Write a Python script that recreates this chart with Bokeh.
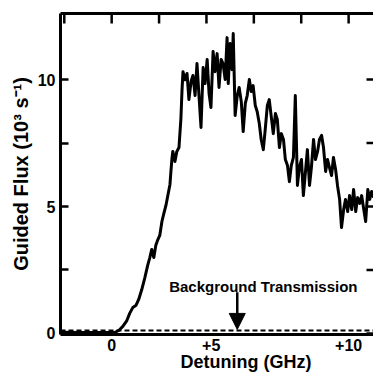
import math
from bokeh.plotting import figure
from bokeh.models import Range1d, LinearAxis, FixedTicker, Label, Arrow, NormalHead, Span, Grid, Title
from bokeh.embed import file_html
from bokeh.resources import INLINE

# Detuning (GHz) and guided flux (10^3 s^-1)
detuning = [-2.10, -1.40, -0.50, 0.00, 0.13, 0.30, 0.47, 0.64, 0.76, 0.89, 1.02, 1.14, 1.27, 1.40,
            1.53, 1.61, 1.69, 1.78, 1.86, 1.95, 2.03, 2.12, 2.20, 2.29, 2.37, 2.46, 2.50, 2.54,
            2.58, 2.67, 2.75, 2.84, 2.92, 2.97, 3.01, 3.09, 3.18, 3.26, 3.35, 3.43, 3.52, 3.60,
            3.69, 3.77, 3.86, 3.94, 4.03, 4.11, 4.19, 4.28, 4.36, 4.45, 4.53, 4.62, 4.70, 4.79,
            4.87, 4.92, 5.00, 5.08, 5.13, 5.21, 5.30, 5.38, 5.47, 5.55, 5.64, 5.72, 5.81, 5.89,
            5.97, 6.06, 6.14, 6.23, 6.31, 6.40, 6.48, 6.57, 6.65, 6.74, 6.82, 6.91, 6.99, 7.08,
            7.16, 7.25, 7.33, 7.42, 7.50, 7.58, 7.67, 7.75, 7.84, 7.92, 8.01, 8.09, 8.18, 8.26,
            8.35, 8.43, 8.52, 8.60, 8.69, 8.77, 8.86, 8.94, 9.03, 9.11, 9.19, 9.28, 9.36, 9.45,
            9.53, 9.62, 9.70, 9.79, 9.87, 9.96, 10.04, 10.13, 10.21, 10.30, 10.38, 10.47, 10.55,
            10.64, 10.72, 10.81, 10.89, 10.97, 11.06]
flux = [0.05, 0.04, 0.04, 0.04, 0.04, 0.12, 0.28, 0.51, 0.79, 1.02, 1.10, 1.34, 1.73, 2.20,
        2.72, 2.99, 3.31, 2.99, 3.46, 3.70, 3.86, 4.41, 4.72, 5.04, 5.43, 5.87, 6.38, 6.85,
        7.17, 6.77, 7.17, 7.32, 8.43, 9.61, 10.31, 9.99, 10.24, 9.21, 9.92, 10.16, 9.37, 10.63,
        9.29, 8.11, 10.47, 9.84, 10.79, 9.45, 8.90, 11.10, 10.31, 11.02, 9.69, 10.79, 10.63, 10.00,
        11.65, 9.84, 11.42, 10.39, 11.81, 8.58, 9.37, 9.69, 9.13, 7.95, 9.06, 9.37, 10.00, 9.53,
        9.76, 8.98, 8.74, 8.27, 7.64, 7.24, 8.03, 8.98, 9.21, 8.50, 7.87, 8.66, 8.43, 7.32,
        7.87, 7.64, 6.85, 6.61, 5.98, 6.61, 6.93, 9.37, 5.83, 6.54, 6.85, 5.43, 6.38, 7.24,
        5.83, 6.54, 7.64, 6.85, 7.17, 7.64, 7.80, 7.32, 6.38, 6.85, 6.54, 6.22, 6.93, 6.46,
        5.83, 5.28, 4.17, 4.88, 5.28, 4.80, 5.43, 4.88, 5.67, 4.80, 5.35, 5.12, 5.43,
        4.88, 4.41, 5.67, 5.28, 5.59, 5.35]
bg_level = 0.12

x_ticks_top = [-2, 0, 2, 4, 6, 8, 10]
x_label_pos = [0, 4.2, 10]
x_label_text = ["0", "+5", "+10"]
y_major = [0, 5, 10]
y_minor = [2.5, 7.5]
y_right = [0, 2.5, 5, 7.5, 10]

FONT = "Liberation Sans"
X0, X1 = -2.16, 11.05
Y0, Y1 = -0.04, 12.6

p = figure(width=373, height=376, output_backend="svg", toolbar_location=None,
           x_range=Range1d(X0, X1), y_range=Range1d(Y0, Y1),
           x_axis_location=None, y_axis_location=None,
           min_border_left=60, min_border_right=0, min_border_top=13, min_border_bottom=42)
p.outline_line_color = None
p.background_fill_color = "white"
p.border_fill_color = "white"
p.center = [c for c in p.center if not isinstance(c, Grid)]

def style(ax, tick_in, width=3):
    ax.axis_line_color = "black"
    ax.axis_line_width = width
    ax.major_tick_line_color = "black"
    ax.major_tick_line_width = 2.5
    ax.minor_tick_line_color = "black"
    ax.minor_tick_line_width = 2.5
    ax.major_tick_in = tick_in
    ax.major_tick_out = 0
    ax.minor_tick_in = tick_in
    ax.minor_tick_out = 0
    ax.major_label_text_font = FONT
    ax.major_label_text_font_style = "bold"
    ax.major_label_text_font_size = "16px"
    ax.major_label_text_color = "black"

left = LinearAxis(ticker=FixedTicker(ticks=y_major, minor_ticks=y_minor),
                  axis_label="Guided Flux (10³ s⁻¹)")
style(left, 8)
left.major_label_standoff = 5
left.axis_label_standoff = 3
left.axis_label_text_font = FONT
left.axis_label_text_font_style = "bold"
left.axis_label_text_font_size = "20px"
left.axis_label_text_color = "black"
p.add_layout(left, "left")

bottom = LinearAxis(ticker=FixedTicker(ticks=x_label_pos),
                    major_label_overrides={pos: txt for pos, txt in zip(x_label_pos, x_label_text)})
style(bottom, 0)
bottom.major_label_standoff = 4
p.add_layout(bottom, "below")

# top border line (its ticks are drawn below as short rays)
top = LinearAxis(ticker=FixedTicker(ticks=[]))
style(top, 0)
p.add_layout(top, "above")

p.add_layout(Title(text="Detuning (GHz)", align="left", offset=120, standoff=-8,
                   text_font=FONT, text_font_style="bold", text_font_size="18px",
                   text_color="black"), "below")

# inward ticks on the top and right edges
p.ray(x=x_ticks_top, y=[Y1] * len(x_ticks_top), length=10, length_units="screen",
      angle=-math.pi / 2, line_color="black", line_width=2.5)
p.ray(x=[X1] * len(y_right), y=y_right, length=7, length_units="screen",
      angle=math.pi, line_color="black", line_width=2.5)

p.add_layout(Span(location=bg_level, dimension="width", line_color="black",
                  line_width=2, line_dash="5 3"))

p.line(detuning, flux, line_color="black", line_width=3, line_join="round")

p.add_layout(Label(x=6.4, y=1.85, text="Background Transmission", text_align="center",
                   text_baseline="alphabetic", text_font=FONT, text_font_style="bold",
                   text_font_size="15px", text_color="black"))
p.add_layout(Arrow(x_start=5.3, y_start=1.62, x_end=5.3, y_end=0.16, line_width=2.5,
                   line_color="black",
                   end=NormalHead(size=16, fill_color="black", line_color="black")))

open("out.html", "w").write(file_html(p, INLINE))
